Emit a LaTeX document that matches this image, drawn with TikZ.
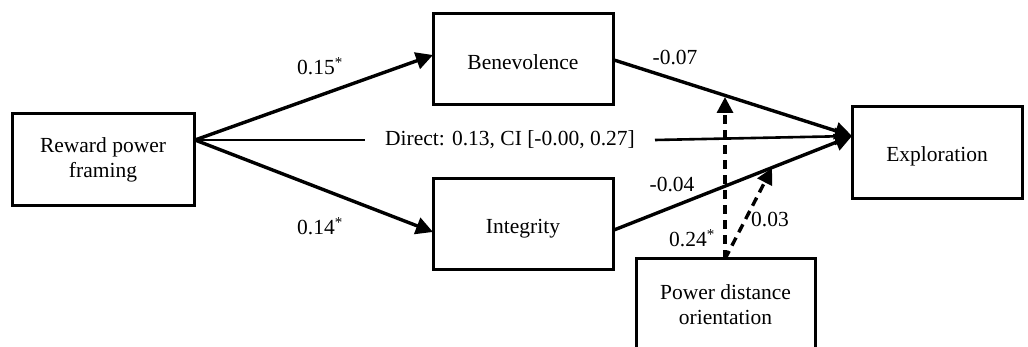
\documentclass[tikz,border=0pt]{standalone}
\usepackage{fontspec}
\setmainfont{Liberation Serif}
\usetikzlibrary{arrows.meta}
\tikzset{
  box/.style={draw, line width=3pt, align=center, inner sep=0pt,
    font=\fontsize{21.5}{25}\selectfont},
  conn/.style={line width=3.4pt, -{Triangle[length=17pt,width=17pt]}},
  plain/.style={line width=2.6pt},
  dconn/.style={line width=3.4pt, dash pattern=on 9pt off 6pt, -{Triangle[length=16pt,width=16pt]}},
  lab/.style={font=\fontsize{21.5}{25}\selectfont, inner sep=0pt},
}
\begin{document}
\begin{tikzpicture}[x=1pt,y=-1pt]
\useasboundingbox (0,0) rectangle (1028,347);
\clip (0,0) rectangle (1028,347);
% nodes
\node[box, minimum width=182pt, minimum height=92pt] (rew) at (103,160) {Reward power\\framing};
\node[box, minimum width=180pt, minimum height=91pt] (ben) at (523,59.5) {\raisebox{-3pt}[\height][\depth]{Benevolence}};
\node[box, minimum width=180pt, minimum height=91pt] (int) at (523,224.5) {\raisebox{-4pt}[\height][\depth]{Integrity}};
\node[box, minimum width=170pt, minimum height=92pt] (exp) at (937,153) {\raisebox{-3pt}[\height][\depth]{Exploration}};
\node[box, minimum width=179pt, minimum height=92pt] (pdo) at (725.5,305) {Power distance\\orientation};
% anchor coordinates
\coordinate (rs) at (195,140);
\coordinate (bt) at (433,55);
\coordinate (it) at (433,232);
\coordinate (bs) at (614,60);
\coordinate (is) at (614,230);
\coordinate (xt) at (852,136);
\coordinate (vt) at (725,97);
\coordinate (dt) at (772,168);
\coordinate (ps) at (725,259);
% direct effect label
\node[lab, inner xsep=20pt] (dl) at (510,140) {Direct: 0.13, CI [-0.00, 0.27]};
% connectors
\draw[conn] (rs) -- (bt);
\draw[conn] (rs) -- (it);
\draw[plain] (rs) -- (dl.west);
\draw[conn, line width=2.6pt] (dl.east) -- (xt);
\draw[conn] (bs) -- (xt);
\draw[conn] (is) -- (xt);
\draw[dconn] (ps) -- (vt);
\draw[dconn] (ps) -- (dt);
% labels
\node[lab] (l1) at (320,66) {0.15\textsuperscript{*}};
\node[lab] (l2) at (320,226) {0.14\textsuperscript{*}};
\node[lab] (l3) at (675,58) {-0.07};
\node[lab] (l4) at (672,185) {-0.04};
\node[lab] (l5) at (770,220) {0.03};
\node[lab] (l6) at (692,238) {0.24\textsuperscript{*}};
\end{tikzpicture}
\end{document}
